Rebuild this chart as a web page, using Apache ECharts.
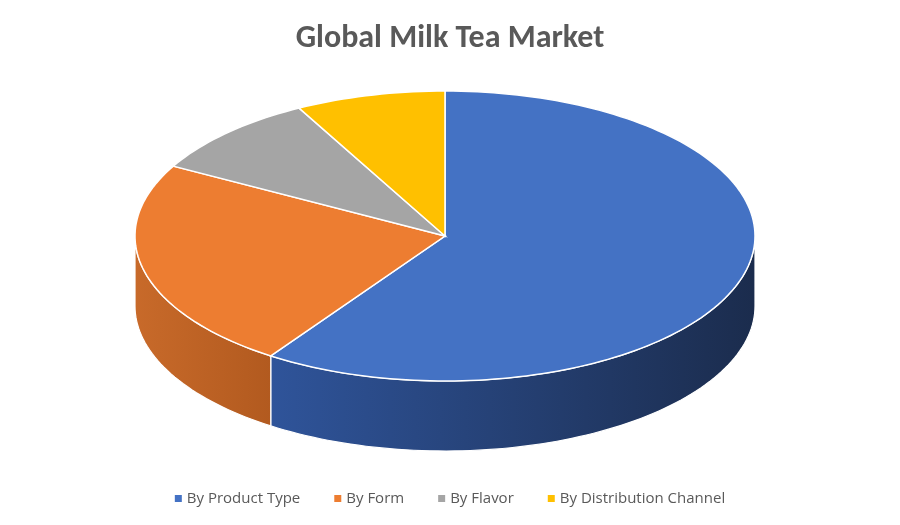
<!DOCTYPE html>
<html><head><meta charset="utf-8">
<script src="https://cdn.jsdelivr.net/npm/echarts@6/dist/echarts.min.js"></script>
<style>html,body{margin:0;padding:0;background:#fff}#c{width:900px;height:525px}</style>
</head><body><div id="c"></div>
<script>
var categories = ['By Product Type', 'By Form', 'By Flavor', 'By Distribution Channel'];
var values = [59.5, 23.5, 9.2, 7.8];
var colors = ['#4472c4', '#ed7d31', '#a5a5a5', '#ffc000'];
var sideDark = [['#2f549a', '#1b2c4d'], ['#c86a2a', '#b25a1f'], ['#7d7d7d', '#6a6a6a'], ['#c09000', '#a07800']];

var total = values.reduce(function (a, b) { return a + b; }, 0);
var starts = [], acc = 0;
values.forEach(function (v) { starts.push(acc / total * 360); acc += v; });

var cx = 445, cy = 236, rx = 310, ry = 145, depth = 70;
function pt(tDeg, off) {
  var t = tDeg * Math.PI / 180;
  return [cx + rx * Math.sin(t), cy - ry * Math.cos(t) + (off || 0)];
}
function arc(a, b, off) {
  var pts = [], n = Math.max(2, Math.ceil(Math.abs(b - a) / 1.5));
  for (var i = 0; i <= n; i++) pts.push(pt(a + (b - a) * i / n, off));
  return pts;
}

function makeRender(idx) {
  return function (params, api) {
    var a = starts[idx], b = a + values[idx] / total * 360;
    var children = [];
    var s = Math.max(a, 90), e = Math.min(b, 270);
    if (e > s) {
      var top = arc(s, e, 0), bot = arc(e, s, depth);
      children.push({
        type: 'polygon', z2: 1,
        shape: { points: top.concat(bot) },
        style: {
          fill: new echarts.graphic.LinearGradient(0, 0, 1, 0, [
            { offset: 0, color: sideDark[idx][0] }, { offset: 1, color: sideDark[idx][1] }]),
          stroke: '#ffffff', lineWidth: 1.2
        }
      });
    }
    children.push({
      type: 'polygon', z2: 10,
      shape: { points: [[cx, cy]].concat(arc(a, b, 0)) },
      style: { fill: colors[idx], stroke: '#ffffff', lineWidth: 1.5 }
    });
    return { type: 'group', children: children };
  };
}

var series = categories.map(function (name, i) {
  return {
    type: 'custom', name: name, coordinateSystem: 'none',
    itemStyle: { color: colors[i] },
    data: [values[i]], renderItem: makeRender(i), z: i === 0 ? 2 : 2
  };
});

var chart = echarts.init(document.getElementById('c'));
chart.setOption({
  animation: false,
  title: { text: 'Global Milk Tea Market', left: 'center', top: 18,
    textStyle: { fontFamily: 'Calibri, Carlito, "Open Sans", sans-serif', fontSize: 32, fontWeight: 'bold', color: '#595959' } },
  legend: { bottom: 14, left: 'center', icon: 'rect', itemWidth: 7, itemHeight: 7, itemGap: 34,
    data: categories,
    textStyle: { fontFamily: '"Open Sans", sans-serif', fontSize: 15, color: '#595959' } },
  series: series
});
</script></body></html>
